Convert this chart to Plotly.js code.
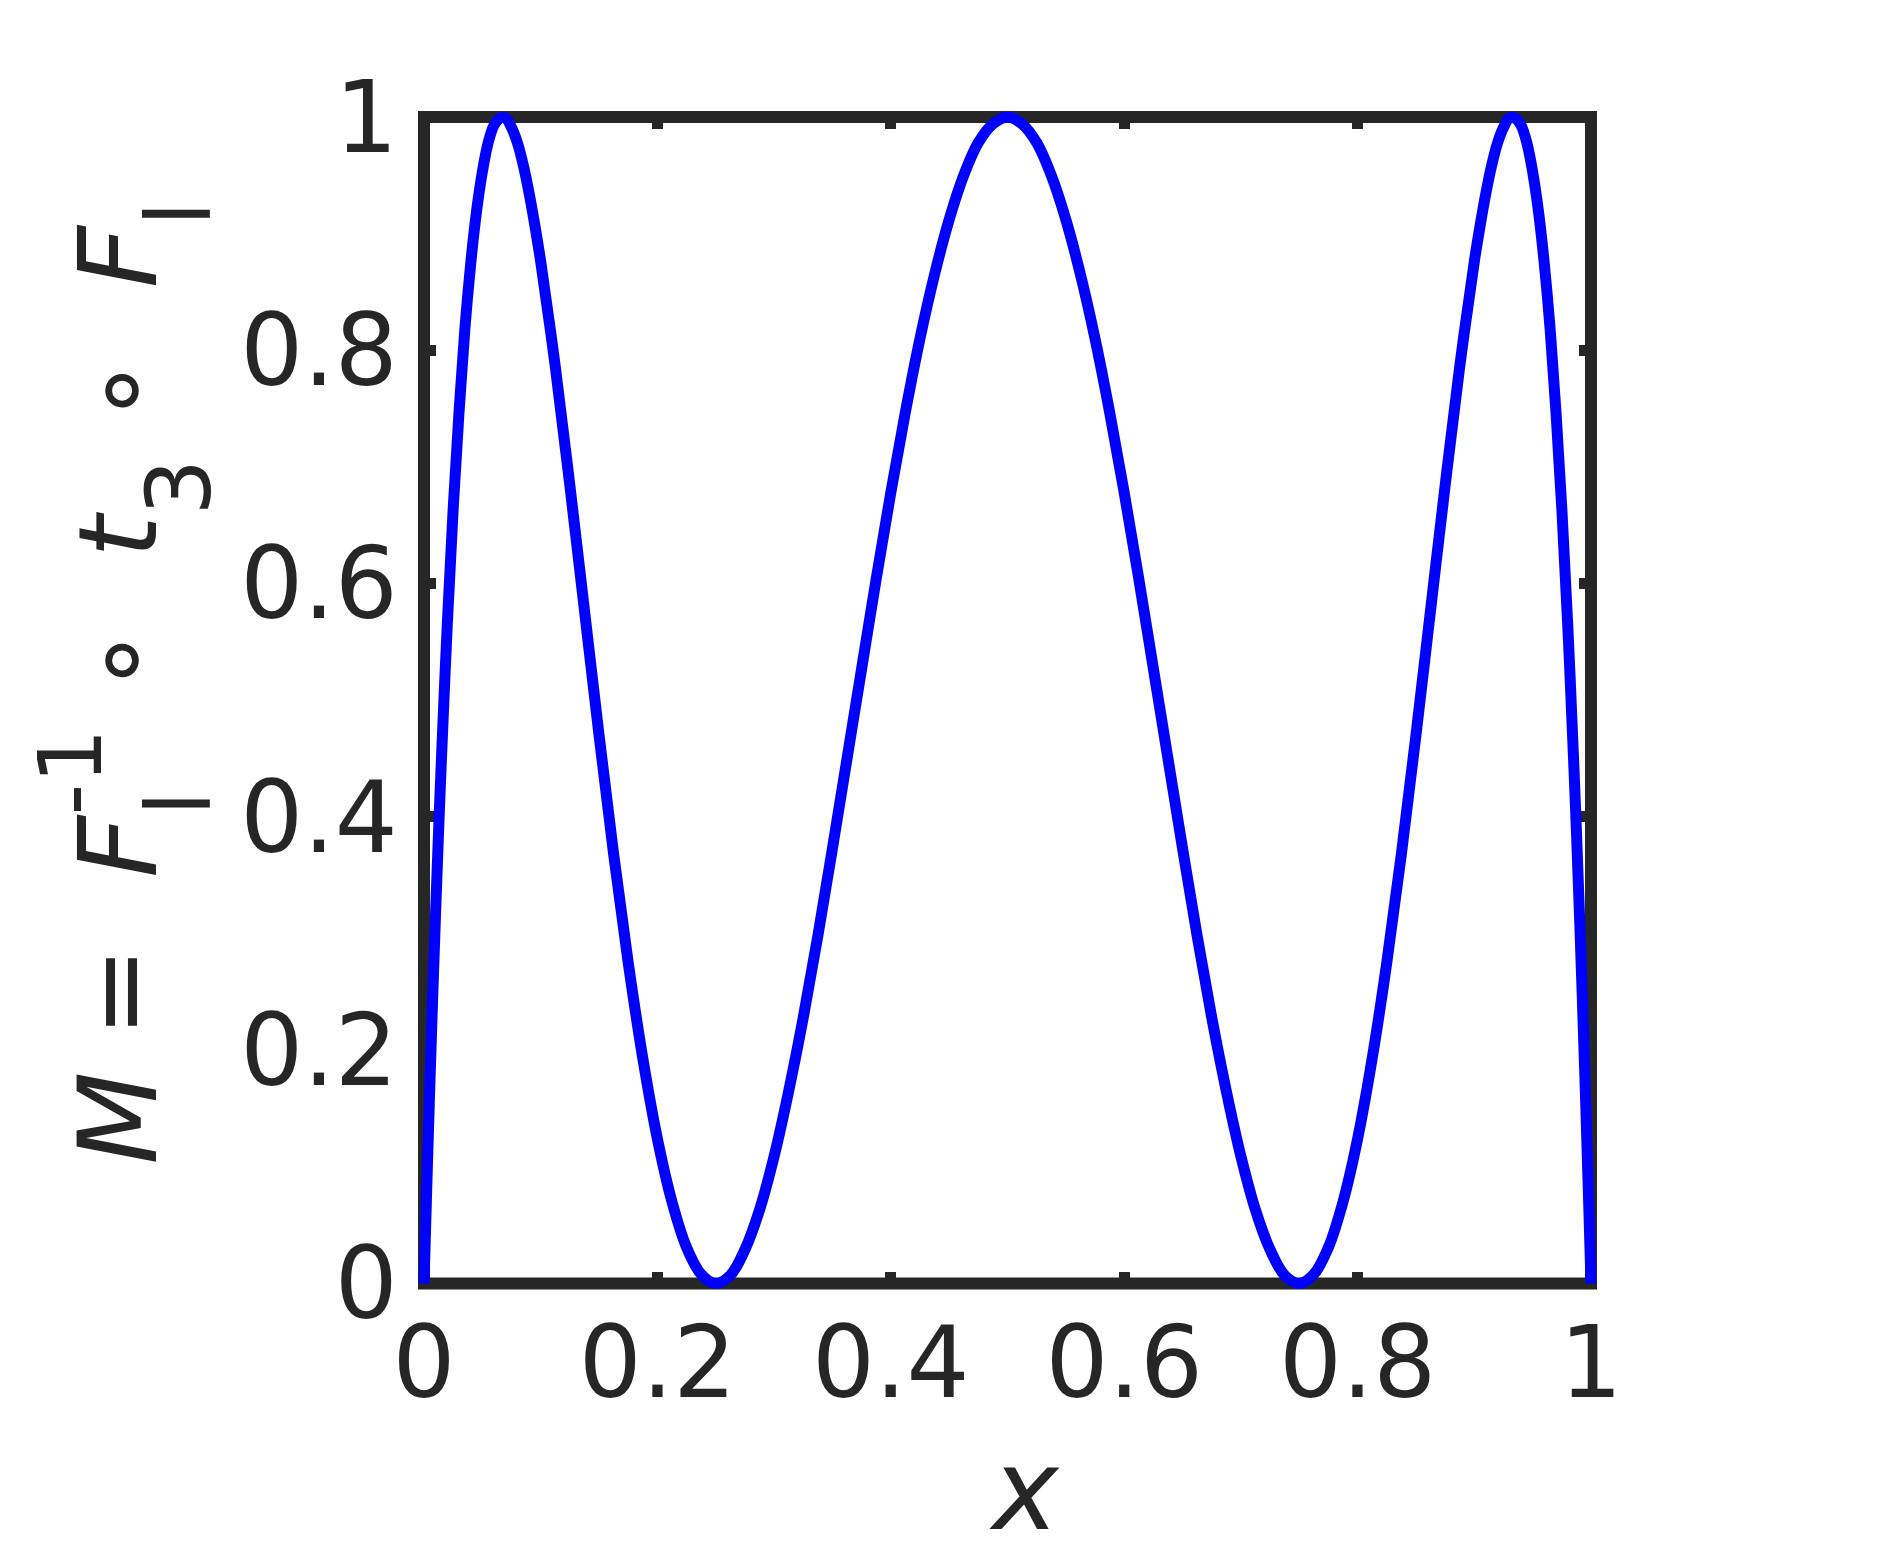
<!DOCTYPE html>
<html>
<head>
<meta charset="utf-8">
<script src="https://cdn.plot.ly/plotly-3.0.1.min.js"></script>
<style>
  html, body { margin: 0; padding: 0; background: #fff; }
  #chart { width: 1891px; height: 1555px; }
</style>
</head>
<body>
<div id="chart"></div>
<script>
  // 曲線の値
  const xVals = [
    0, 0.0025, 0.005, 0.0075, 0.01, 0.0125, 0.015, 0.02, 0.025, 0.03,
    0.035, 0.04, 0.045, 0.05, 0.055, 0.06, 0.065, 0.07, 0.075, 0.08,
    0.085, 0.09, 0.095, 0.1, 0.1125, 0.125, 0.1375, 0.15, 0.1625, 0.175,
    0.1875, 0.2, 0.2125, 0.225, 0.2375, 0.25, 0.2625, 0.275, 0.2875, 0.3,
    0.3125, 0.325, 0.3375, 0.35, 0.3625, 0.375, 0.3875, 0.4, 0.4125, 0.425,
    0.4375, 0.45, 0.4625, 0.475, 0.4875, 0.5,
    0.5125, 0.525, 0.5375, 0.55, 0.5625, 0.575, 0.5875, 0.6, 0.6125, 0.625,
    0.6375, 0.65, 0.6625, 0.675, 0.6875, 0.7, 0.7125, 0.725, 0.7375, 0.75,
    0.7625, 0.775, 0.7875, 0.8, 0.8125, 0.825, 0.8375, 0.85, 0.8625, 0.875,
    0.8875, 0.9, 0.905, 0.91, 0.915, 0.92, 0.925, 0.93, 0.935, 0.94,
    0.945, 0.95, 0.955, 0.96, 0.965, 0.97, 0.975, 0.98, 0.985, 0.9875,
    0.99, 0.9925, 0.995, 0.9975, 1
  ];
  const mVals = [
    0, 0.087, 0.17, 0.247, 0.32, 0.388, 0.451, 0.566, 0.664, 0.747,
    0.818, 0.874, 0.919, 0.953, 0.978, 0.993, 0.999, 0.999, 0.991, 0.978,
    0.959, 0.935, 0.907, 0.876, 0.786, 0.684, 0.577, 0.47, 0.368, 0.275,
    0.193, 0.124, 0.07, 0.031, 0.008, 0, 0.007, 0.029, 0.063, 0.109,
    0.165, 0.228, 0.298, 0.373, 0.45, 0.527, 0.604, 0.678, 0.747, 0.81,
    0.865, 0.912, 0.95, 0.978, 0.994, 1,
    0.994, 0.978, 0.95, 0.912, 0.865, 0.81, 0.747, 0.678, 0.604, 0.527,
    0.45, 0.373, 0.298, 0.228, 0.165, 0.109, 0.063, 0.029, 0.007, 0,
    0.008, 0.031, 0.07, 0.124, 0.193, 0.275, 0.368, 0.47, 0.577, 0.684,
    0.786, 0.876, 0.907, 0.935, 0.959, 0.978, 0.991, 0.999, 0.999, 0.993,
    0.978, 0.953, 0.919, 0.874, 0.818, 0.747, 0.664, 0.566, 0.451, 0.388,
    0.32, 0.247, 0.17, 0.087, 0
  ];

  const tickVals = [0, 0.2, 0.4, 0.6, 0.8, 1];
  const tickText = ['0', '0.2', '0.4', '0.6', '0.8', '1'];

  const axisColor = '#262626';
  const font = 'DejaVu Sans, sans-serif';
  const sp = '\u00A0';
  // 先頭の空白は消えるので、見えない文字で位置をずらす
  const ghost = '<span style="fill-opacity:0">.</span>';

  // 下付き・上付き（MATLAB風の位置）
  const sub = (s, stack) =>
    `<span style="font-size:89px;baseline-shift:-54px${stack ? ';letter-spacing:-24px' : ''}">${s}</span>`;
  const sup = s => `<span style="font-size:87px;baseline-shift:55px">${s}</span>`;

  const yTitle = ghost + '<i>M</i>' + sp + '=' + sp + sp + '<i>F</i>' + sub('l', true) + sup('-1') +
    sp + '∘' + sp + sp + '<i>t</i>' + sub('3') + sp + '∘' + sp + sp + '<i>F</i>' + sub('l');

  const axisCommon = {
    range: [0, 1],
    tickmode: 'array',
    tickvals: tickVals,
    ticktext: tickText,
    showline: true,
    linewidth: 0.5,
    linecolor: 'rgba(0,0,0,0)',
    mirror: 'ticks',
    ticks: 'inside',
    ticklen: 12,
    tickwidth: 11,
    tickcolor: axisColor,
    showgrid: false,
    zeroline: false,
    tickfont: { family: font, size: 99, color: axisColor },
  };

  Plotly.newPlot('chart', [
    // 目盛り用（点なし）
    { x: [], y: [], type: 'scatter', mode: 'lines', hoverinfo: 'skip' },
    {
      x: xVals,
      y: mVals,
      xaxis: 'x2',
      yaxis: 'y2',
      type: 'scatter',
      mode: 'lines',
      line: { color: '#0000ff', width: 11, shape: 'spline', smoothing: 1 },
      hoverinfo: 'skip',
    }
  ], {
    width: 1891,
    height: 1555,
    paper_bgcolor: '#ffffff',
    plot_bgcolor: 'rgba(0,0,0,0)',
    margin: { l: 418, r: 294, t: 111, b: 266 },
    showlegend: false,
    xaxis: {
      ...axisCommon,
      domain: [6 / 1179, 1173 / 1179],
      ticklabelstandoff: -6,
      title: {
        text: ghost + '<i>x</i>',
        font: { family: font, size: 112, color: axisColor },
        standoff: 36,
      },
    },
    yaxis: {
      ...axisCommon,
      domain: [5.5 / 1178, 1172 / 1178],
      ticklabelstandoff: 6,
      title: {
        text: yTitle,
        font: { family: font, size: 108, color: axisColor },
        standoff: 47,
      },
    },
    // 曲線用の軸（枠の線の外側まで描けるように少し広い）
    xaxis2: { domain: [0, 1], range: [-0.005141, 1.005141], anchor: 'y2', visible: false },
    yaxis2: { domain: [0, 1], range: [-0.004715, 1.005144], anchor: 'x2', visible: false },
    // 枠
    shapes: [{
      type: 'rect', xref: 'x domain', yref: 'y domain',
      x0: 0, x1: 1, y0: 0, y1: 1,
      line: { color: axisColor, width: 12 },
      layer: 'below',
    }],
  }, { displayModeBar: false, staticPlot: true });
</script>
</body>
</html>
